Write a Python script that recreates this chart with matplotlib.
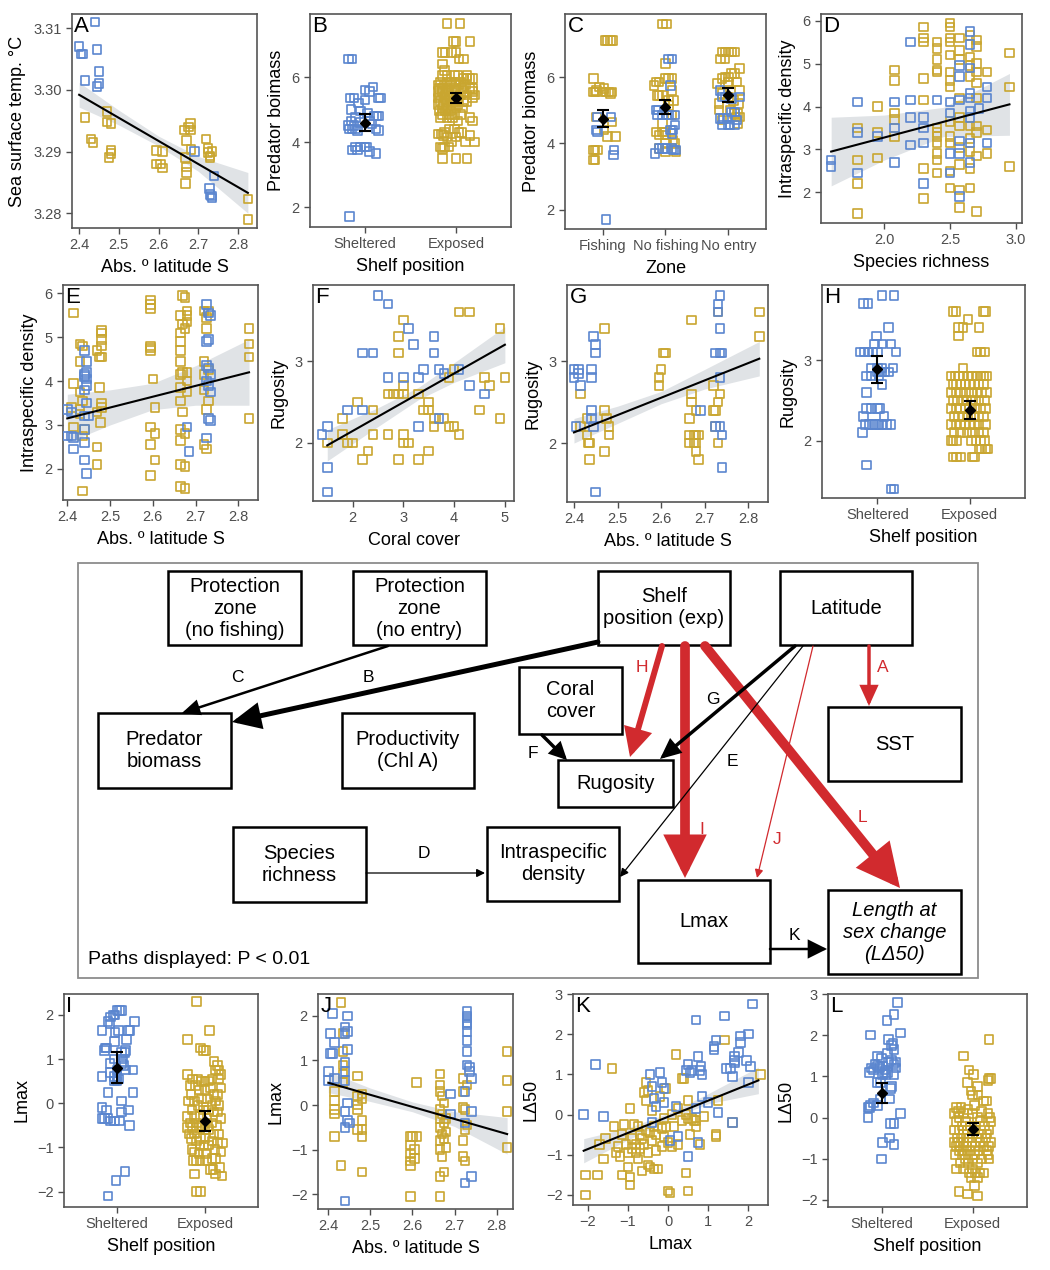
import numpy as np
import matplotlib
matplotlib.use("Agg")
import matplotlib.pyplot as plt
from matplotlib.patches import Rectangle, FancyArrowPatch

plt.rcParams['font.family'] = ['Liberation Sans', 'DejaVu Sans']

W, H = 1050, 1270
BLUE = '#5b86cf'
GOLD = '#c9a630'
RED = '#d12a2e'
BAND = '#e0e3e6'
TICK = '#4d4d4d'

# ---------------- data ----------------
# A: latitude vs SST
a_blue = [(2.400, 3.3070), (2.405, 3.3058), (2.410, 3.3058), (2.415, 3.3015), (2.440, 3.3110),
          (2.445, 3.3065), (2.445, 3.3005), (2.450, 3.3030), (2.450, 3.3010), (2.690, 3.2900),
          (2.728, 3.2840), (2.730, 3.2830), (2.735, 3.2825), (2.740, 3.2860), (2.733, 3.2828)]
a_gold = [(2.415, 3.2955), (2.430, 3.2920), (2.435, 3.2915), (2.470, 3.2965), (2.470, 3.2948),
          (2.480, 3.2945), (2.475, 3.2890), (2.480, 3.2902), (2.480, 3.2897), (2.595, 3.2902),
          (2.595, 3.2880), (2.605, 3.2880), (2.610, 3.2873), (2.610, 3.2900), (2.665, 3.2935),
          (2.670, 3.2918), (2.670, 3.2875), (2.670, 3.2866), (2.668, 3.2848), (2.668, 3.2890),
          (2.675, 3.2940), (2.680, 3.2945), (2.680, 3.2935), (2.682, 3.2903), (2.720, 3.2920),
          (2.725, 3.2905), (2.725, 3.2898), (2.730, 3.2893), (2.730, 3.2890), (2.735, 3.2900),
          (2.825, 3.2823), (2.825, 3.2790)]
a_band_x = [2.40, 2.50, 2.60, 2.70, 2.825]
a_band_lo = [3.2972, 3.2943, 3.2909, 3.2868, 3.2800]
a_band_hi = [3.3012, 3.2967, 3.2925, 3.2892, 3.2866]
a_line = ([2.40, 2.825], [3.2992, 3.2833])

# B: shelf position vs predator biomass
b_blue = [(6.55, [0.82, 0.86]), (5.70, [1.09]), (5.60, [1.00]), (5.55, [1.05]),
          (5.35, [0.84, 0.88, 1.15, 1.17]), (5.30, [1.00]), (5.20, [0.93]), (5.00, [0.85]),
          (4.95, [0.95]), (4.90, [1.03]), (4.80, [1.10, 1.13, 1.15]), (4.75, [0.90]),
          (4.65, [0.85, 1.05]), (4.60, [0.95]), (4.55, [1.08]), (4.50, [0.82, 0.88]),
          (4.40, [0.83, 0.86, 0.90, 1.12]), (4.35, [0.92, 1.15]),
          (3.85, [0.90, 0.95, 1.00, 1.02]), (3.75, [0.86, 0.92]), (3.70, [1.05]),
          (3.65, [1.12]), (1.70, [0.83])]
b_gold = [(7.65, [1.90, 2.04]), (7.10, [1.97, 2.00, 2.15]), (6.75, [1.85, 1.88, 1.95, 2.00]),
          (6.55, [2.03, 2.08]), (6.40, [1.85]), (6.20, [1.87]),
          (6.05, [1.85, 1.90, 1.98, 2.02, 2.12]), (5.95, [2.08, 2.12, 2.15, 2.18]),
          (5.85, [1.83, 1.90, 1.95, 2.00, 2.05]), (5.75, [1.80, 1.87, 1.93, 2.03, 2.10]),
          (5.65, [1.82, 1.85, 1.90, 1.98, 2.06, 2.15, 2.18]),
          (5.55, [1.80, 1.85, 1.92, 2.00, 2.08, 2.18]),
          (5.45, [1.82, 1.88, 1.95, 2.05, 2.12, 2.20]), (5.35, [1.80, 1.87, 1.93, 2.02, 2.18]),
          (5.25, [1.83, 1.90, 1.97, 2.08, 2.12]), (5.15, [1.80, 1.86, 1.95, 2.02]),
          (5.05, [1.85, 1.90, 2.00, 2.07]), (4.95, [1.82, 1.88, 1.94]),
          (4.85, [1.85, 1.92, 1.98, 2.05]), (4.75, [1.83, 1.90, 1.96, 2.15]),
          (4.65, [2.02, 2.18]), (4.40, [1.92, 1.98]), (4.30, [1.87, 2.03, 2.06]),
          (4.25, [1.80, 1.84]), (4.20, [1.86, 2.15]), (4.15, [1.90, 2.00]),
          (4.00, [1.95, 2.10, 2.20]), (3.85, [1.83, 1.87, 1.92]), (3.80, [1.85]),
          (3.50, [1.85, 2.00, 2.12])]
b_mean = [4.60, 5.35]
b_lo = [4.35, 5.20]
b_hi = [4.85, 5.50]

# C: zone vs predator biomass
c_gold = [(7.10, [1.04, 1.08, 1.12, 1.16]), (5.95, [0.85]), (5.70, [0.95]), (5.65, [1.02]),
          (5.60, [0.90]), (5.55, [0.85, 0.88, 1.00, 1.05, 1.10, 1.15]), (5.50, [1.12]),
          (4.80, [0.90]), (4.65, [1.15]), (4.40, [1.02]), (4.20, [1.08, 1.20]),
          (3.80, [0.85, 0.88, 0.92]), (3.50, [0.85, 0.88]),
          (7.60, [1.95, 2.02]), (6.40, [2.00]), (5.95, [2.00, 2.05, 2.10]), (5.85, [1.85, 1.90]),
          (5.75, [1.82]), (5.60, [2.10]), (5.45, [1.87, 1.90, 1.95]), (5.30, [2.05, 2.13]),
          (5.15, [2.05]), (4.85, [2.10]), (4.60, [1.95]), (4.35, [1.85, 1.95, 2.00]),
          (4.25, [1.90, 2.00]), (4.10, [2.12]), (4.00, [2.00, 2.15]), (3.85, [1.90]),
          (3.75, [2.00, 2.17]),
          (6.75, [2.90, 2.95, 3.00, 3.05, 3.10]), (6.55, [2.88, 2.95]), (6.25, [3.18]),
          (6.10, [3.05, 3.10]), (6.00, [2.95, 3.00]), (5.95, [2.90]), (5.85, [3.00, 3.13]),
          (5.80, [2.82]), (5.60, [3.18]), (5.50, [2.90]), (5.40, [3.00]), (5.30, [3.08]),
          (5.20, [2.85, 3.17]), (5.00, [2.85, 3.03]), (4.90, [3.10, 3.15]),
          (4.80, [3.12, 3.18]), (4.70, [2.90]), (4.60, [3.15])]
c_blue = [(4.80, [0.92, 1.13]), (4.40, [0.90]), (4.35, [0.92]), (3.80, [1.18]), (3.65, [1.17]),
          (1.70, [1.05]),
          (6.55, [2.05, 2.10]), (5.75, [2.08]), (5.00, [1.85, 1.88]),
          (4.85, [1.87, 1.95, 2.02, 2.05, 2.15]), (4.55, [2.15]), (4.40, [2.08, 2.12]),
          (4.30, [2.10]), (3.85, [1.90, 1.95, 2.00, 2.10]), (3.70, [1.83]), (3.80, [2.13, 2.17]),
          (5.60, [2.87]), (5.40, [2.90, 2.95, 3.18]), (5.35, [3.05]), (4.95, [3.05, 3.10]),
          (4.75, [2.87, 2.92, 2.98]), (4.55, [2.90, 3.00, 3.03, 3.10]), (4.70, [3.13])]
c_mean = [4.75, 5.10, 5.45]
c_lo = [4.50, 4.90, 5.25]
c_hi = [5.00, 5.32, 5.68]

# D: species richness vs intraspecific density
d_blue = [(1.60, 2.75), (1.60, 2.60), (1.80, 4.10), (1.80, 3.40), (1.80, 2.45), (1.95, 3.30),
          (2.08, 4.10), (2.08, 3.50), (2.08, 2.70), (2.20, 5.50), (2.20, 4.15), (2.20, 3.75),
          (2.20, 3.10), (2.30, 3.75), (2.30, 3.50), (2.30, 3.15), (2.30, 2.20), (2.40, 4.15),
          (2.50, 4.10), (2.50, 3.85), (2.50, 2.90), (2.50, 2.45), (2.57, 4.95), (2.57, 4.70),
          (2.57, 4.15), (2.57, 3.20), (2.57, 2.90), (2.57, 1.90), (2.65, 5.75), (2.65, 5.45),
          (2.65, 4.90), (2.65, 4.30), (2.65, 4.20), (2.65, 3.90), (2.65, 3.75), (2.65, 3.15),
          (2.65, 2.70), (2.72, 3.95), (2.78, 4.45), (2.78, 4.20), (2.78, 3.15)]
d_gold = [(1.80, 3.50), (1.80, 2.75), (1.80, 2.20), (1.80, 1.50), (1.95, 4.00), (1.95, 3.40),
          (1.95, 2.80), (2.08, 4.85), (2.08, 4.60), (2.08, 3.85), (2.08, 3.70), (2.08, 3.30),
          (2.30, 5.85), (2.30, 5.60), (2.30, 5.50), (2.30, 4.65), (2.30, 4.15), (2.30, 2.55),
          (2.30, 1.85), (2.40, 5.50), (2.40, 5.35), (2.40, 5.10), (2.40, 4.85), (2.40, 4.80),
          (2.40, 3.50), (2.40, 3.40), (2.40, 3.30), (2.40, 3.15), (2.40, 2.90), (2.40, 2.75),
          (2.40, 2.45), (2.50, 5.95), (2.50, 5.85), (2.50, 5.60), (2.50, 5.50), (2.50, 5.20),
          (2.50, 4.80), (2.50, 4.60), (2.50, 4.45), (2.50, 3.65), (2.50, 3.30), (2.50, 3.15),
          (2.50, 2.50), (2.50, 2.10), (2.57, 5.60), (2.57, 5.30), (2.57, 5.10), (2.57, 4.20),
          (2.57, 3.75), (2.57, 3.55), (2.57, 3.05), (2.57, 2.65), (2.57, 2.05), (2.57, 1.65),
          (2.65, 5.65), (2.65, 5.15), (2.65, 4.95), (2.65, 4.70), (2.65, 3.55), (2.65, 3.25),
          (2.65, 2.95), (2.65, 2.55), (2.65, 2.10), (2.70, 5.55), (2.70, 5.40), (2.70, 5.00),
          (2.70, 4.80), (2.70, 4.55), (2.70, 4.20), (2.70, 3.55), (2.70, 3.40), (2.70, 2.85),
          (2.70, 1.55), (2.78, 4.80), (2.78, 3.45), (2.78, 2.90), (2.95, 5.25), (2.95, 4.45),
          (2.95, 2.60)]
d_band_x = [1.60, 2.00, 2.45, 2.95]
d_band_lo = [2.15, 2.75, 3.30, 3.33]
d_band_hi = [3.75, 3.80, 3.98, 4.77]
d_line = ([1.60, 2.95], [2.95, 4.05])

# E: latitude vs intraspecific density
e_blue = [(2.400, 3.35), (2.400, 2.75), (2.410, 2.75), (2.410, 3.30), (2.415, 2.45), (2.415, 2.72),
          (2.440, 4.70), (2.440, 4.15), (2.440, 4.10), (2.445, 4.45), (2.445, 4.20), (2.445, 4.05),
          (2.445, 3.90), (2.440, 3.80), (2.445, 3.50), (2.440, 3.20), (2.450, 3.20), (2.440, 2.90),
          (2.440, 2.60), (2.440, 2.20), (2.445, 1.90), (2.680, 2.95), (2.685, 2.40), (2.725, 5.75),
          (2.730, 5.55), (2.735, 5.50), (2.730, 4.95), (2.725, 4.90), (2.725, 4.35), (2.730, 4.30),
          (2.735, 4.15), (2.725, 4.00), (2.730, 3.90), (2.735, 3.75), (2.730, 3.15), (2.735, 3.10),
          (2.725, 2.70)]
e_gold = [(2.415, 5.55), (2.415, 3.95), (2.410, 3.40), (2.415, 2.95), (2.430, 4.85), (2.435, 4.80),
          (2.430, 4.45), (2.430, 3.75), (2.435, 3.55), (2.430, 3.35), (2.430, 3.25), (2.440, 2.90),
          (2.435, 2.75), (2.435, 1.50), (2.470, 4.70), (2.475, 4.55), (2.470, 3.30), (2.470, 2.50),
          (2.470, 2.10), (2.480, 5.15), (2.480, 5.10), (2.480, 4.95), (2.480, 4.80), (2.480, 4.55),
          (2.475, 3.85), (2.480, 3.50), (2.480, 3.40), (2.478, 3.05), (2.595, 5.85), (2.595, 5.75),
          (2.595, 5.65), (2.595, 4.80), (2.595, 4.75), (2.595, 4.70), (2.595, 2.95), (2.595, 2.55),
          (2.595, 1.85), (2.600, 4.05), (2.605, 3.40), (2.605, 2.80), (2.605, 2.20), (2.665, 5.50),
          (2.665, 5.10), (2.665, 4.90), (2.665, 4.70), (2.665, 4.45), (2.665, 4.15), (2.665, 3.85),
          (2.665, 3.55), (2.665, 2.90), (2.665, 2.65), (2.665, 2.10), (2.665, 1.60), (2.670, 5.95),
          (2.675, 5.90), (2.670, 5.30), (2.675, 5.20), (2.670, 4.20), (2.670, 3.30), (2.675, 2.80),
          (2.675, 2.05), (2.675, 1.55), (2.680, 5.60), (2.680, 5.50), (2.680, 5.35), (2.680, 4.20),
          (2.680, 4.00), (2.680, 3.75), (2.720, 5.60), (2.720, 4.45), (2.720, 4.15), (2.720, 3.80),
          (2.720, 2.55), (2.725, 5.45), (2.725, 5.20), (2.725, 3.35), (2.725, 2.45), (2.730, 5.60),
          (2.730, 4.25), (2.730, 3.55), (2.825, 5.20), (2.825, 4.85), (2.825, 4.55), (2.825, 3.15)]
e_band_x = [2.40, 2.50, 2.60, 2.70, 2.825]
e_band_lo = [2.60, 3.00, 3.35, 3.45, 3.45]
e_band_hi = [3.70, 3.80, 3.95, 4.35, 4.95]
e_line = ([2.40, 2.825], [3.15, 4.20])

# F: coral cover vs rugosity
f_blue = [(1.4, 2.1), (1.5, 2.2), (1.5, 1.7), (1.5, 1.4), (1.9, 2.4), (2.2, 3.1), (2.2, 2.4),
          (2.4, 3.1), (2.5, 3.8), (2.7, 3.7), (2.7, 2.8), (3.0, 2.8), (3.1, 3.4), (3.2, 3.2),
          (3.3, 2.8), (3.3, 2.2), (3.4, 2.9), (3.6, 3.3), (3.6, 3.1), (3.7, 2.9), (3.7, 2.3),
          (3.8, 2.85), (4.1, 2.9), (4.3, 2.7), (4.6, 2.6)]
f_gold = [(1.5, 2.0), (1.8, 2.3), (1.8, 2.1), (1.9, 2.0), (2.0, 2.0), (2.1, 2.5), (2.2, 1.8),
          (2.3, 1.9), (2.4, 2.4), (2.4, 2.1), (2.7, 2.6), (2.7, 2.1), (2.8, 2.6), (2.9, 2.6),
          (2.9, 3.3), (2.9, 3.1), (2.9, 1.8), (3.0, 3.5), (3.0, 2.7), (3.0, 2.6), (3.0, 2.1),
          (3.0, 2.0), (3.1, 2.0), (3.3, 2.6), (3.3, 1.8), (3.4, 2.4), (3.5, 2.5), (3.5, 2.4),
          (3.5, 1.9), (3.6, 2.2), (3.6, 2.3), (3.8, 2.3), (3.9, 2.8), (3.9, 2.2), (4.0, 2.9),
          (4.0, 2.2), (4.1, 3.6), (4.1, 2.1), (4.3, 3.6), (4.5, 2.4), (4.6, 2.8), (4.7, 2.7),
          (4.9, 3.4), (4.9, 2.3), (5.0, 2.8)]
f_band_x = [1.5, 2.5, 3.3, 4.0, 5.0]
f_band_lo = [1.78, 2.20, 2.53, 2.74, 2.98]
f_band_hi = [2.16, 2.43, 2.68, 2.98, 3.42]
f_line = ([1.5, 5.0], [1.97, 3.20])

# G: latitude vs rugosity
g_blue = [(2.400, 2.9), (2.400, 2.8), (2.405, 2.2), (2.410, 2.85), (2.410, 2.9), (2.415, 2.7),
          (2.440, 2.9), (2.440, 2.8), (2.440, 2.4), (2.440, 2.3), (2.445, 3.3), (2.445, 2.2),
          (2.450, 3.2), (2.450, 3.1), (2.450, 1.4), (2.690, 2.4), (2.725, 3.1), (2.725, 2.2),
          (2.730, 3.7), (2.730, 3.6), (2.735, 3.8), (2.735, 3.4), (2.735, 3.1), (2.735, 2.8),
          (2.735, 2.2), (2.740, 3.1), (2.740, 2.1), (2.740, 1.7)]
g_gold = [(2.415, 2.6), (2.415, 2.2), (2.430, 2.3), (2.430, 2.1), (2.435, 2.0), (2.433, 2.0),
          (2.435, 1.8), (2.470, 3.4), (2.470, 2.4), (2.470, 1.9), (2.475, 2.3), (2.480, 2.2),
          (2.480, 2.1), (2.595, 2.8), (2.595, 2.7), (2.600, 2.9), (2.605, 3.1), (2.610, 3.1),
          (2.670, 3.5), (2.670, 2.6), (2.670, 2.5), (2.665, 2.3), (2.665, 2.1), (2.665, 2.0),
          (2.675, 2.1), (2.675, 2.0), (2.680, 2.4), (2.680, 2.1), (2.680, 2.0), (2.680, 1.9),
          (2.685, 2.1), (2.685, 1.8), (2.720, 2.7), (2.720, 2.4), (2.725, 2.4), (2.725, 2.2),
          (2.730, 3.6), (2.730, 2.5), (2.730, 2.0), (2.735, 2.6), (2.825, 3.6), (2.825, 3.3)]
g_band_x = [2.40, 2.50, 2.60, 2.70, 2.825]
g_band_lo = [2.00, 2.24, 2.48, 2.66, 2.82]
g_band_hi = [2.30, 2.45, 2.63, 2.90, 3.24]
g_line = ([2.40, 2.825], [2.13, 3.03])

# H: shelf position vs rugosity
h_blue = [(3.8, [1.05, 1.18]), (3.7, [0.85, 0.90]), (3.4, [1.12]), (3.3, [0.99]),
          (3.2, [0.97, 1.05, 1.15]), (3.1, [0.82, 0.86, 0.90, 0.95, 1.00, 1.20]),
          (2.9, [0.93, 1.00, 1.05, 1.17]), (2.85, [1.00, 1.05, 1.08, 1.12]),
          (2.8, [0.88, 0.93, 1.02]), (2.7, [1.05]), (2.6, [0.88]), (2.4, [0.88, 0.93, 1.00, 1.03]),
          (2.3, [0.85, 1.07]), (2.2, [0.87, 0.91, 0.95, 0.98, 1.02, 1.05, 1.10, 1.15]),
          (2.1, [0.84]), (1.7, [0.88]), (1.4, [1.15, 1.18])]
h_gold = [(3.6, [1.82, 1.85, 2.15, 2.17]), (3.5, [1.98]), (3.4, [1.88, 1.93, 2.10]), (3.3, [1.88]),
          (3.1, [2.08, 2.12, 2.16]), (2.9, [1.93]),
          (2.8, [1.80, 1.84, 1.88, 1.93, 1.98, 2.03, 2.08, 2.12, 2.15, 2.18]),
          (2.7, [1.82, 1.86, 1.90, 1.95, 2.00, 2.05, 2.10, 2.15]),
          (2.6, [1.80, 1.85, 1.90, 1.96, 2.02, 2.08, 2.13, 2.18]),
          (2.5, [1.82, 1.87, 1.93, 1.97, 2.03, 2.10, 2.16]),
          (2.4, [1.80, 1.86, 1.90, 1.95, 2.00, 2.05, 2.12, 2.17]),
          (2.3, [1.83, 1.88, 1.93, 1.98, 2.04, 2.10, 2.15]),
          (2.2, [1.80, 1.85, 1.90, 1.95, 2.00, 2.05, 2.10, 2.17]),
          (2.1, [1.83, 1.90, 1.97, 2.03, 2.10, 2.15]),
          (2.0, [1.80, 1.82, 1.86, 2.02, 2.07, 2.12, 2.16]),
          (1.9, [2.10, 2.13, 2.17, 2.20]), (1.8, [1.82, 1.86, 1.90, 2.03, 2.05])]
h_mean = [2.89, 2.38]
h_lo = [2.72, 2.27]
h_hi = [3.05, 2.49]

# I: shelf position vs Lmax
i_blue = [(2.10, [1.00, 1.03, 1.05]), (2.00, [0.96, 0.98]), (1.95, [0.93]), (1.85, [0.90, 1.20]),
          (1.80, [0.92]), (1.65, [0.83, 1.02, 1.13, 1.15]), (1.60, [0.98]), (1.45, [1.11]),
          (1.40, [0.97]), (1.25, [0.87, 0.88]), (1.20, [0.86, 1.10]), (1.15, [1.05, 1.09]),
          (1.00, [0.97, 1.07]), (0.90, [0.92, 1.05]), (0.85, [1.08]), (0.75, [1.00, 1.10, 1.18]),
          (0.70, [0.93]), (0.60, [0.83, 0.97, 1.00]), (0.55, [1.02]), (0.50, [0.97, 1.00]),
          (0.25, [0.90, 1.18]), (0.05, [1.05]), (-0.10, [0.83]), (-0.15, [0.88, 1.13]),
          (-0.20, [1.05]), (-0.35, [0.83, 0.86, 0.90]), (-0.40, [0.93, 0.97, 1.03]),
          (-0.50, [1.14]), (-1.55, [1.09]), (-1.75, [0.99]), (-2.10, [0.90])]
i_gold = [(2.30, [1.90]), (1.65, [2.05]), (1.45, [1.80]), (1.25, [1.95]), (1.20, [1.98, 2.01]),
          (0.95, [2.10]), (0.85, [2.14]), (0.75, [2.12, 2.16]), (0.65, [1.80, 2.18]),
          (0.55, [1.86, 1.92, 2.08, 2.15]), (0.50, [1.96, 2.00, 2.04]), (0.40, [1.83, 1.89]),
          (0.35, [2.06, 2.18]), (0.30, [1.93, 2.00]), (0.20, [1.84, 2.10, 2.14]),
          (0.10, [1.96, 2.03]), (0.05, [1.81, 1.88, 2.12]), (-0.05, [1.92, 2.08, 2.16]),
          (-0.15, [1.85, 1.98, 2.04]), (-0.20, [2.10, 2.14]), (-0.30, [1.80, 1.88, 1.95]),
          (-0.35, [2.02, 2.18]), (-0.45, [1.83, 1.90, 2.07]), (-0.50, [1.97, 2.13]),
          (-0.55, [1.80, 1.86, 1.93]), (-0.60, [2.00, 2.04]), (-0.70, [1.82, 1.88, 2.10, 2.16]),
          (-0.80, [1.84, 1.95, 2.00]), (-0.85, [1.90, 2.08]), (-0.90, [2.14, 2.20]),
          (-0.95, [1.94, 1.99, 2.04]), (-1.05, [1.85, 2.11]), (-1.10, [1.88, 2.18]),
          (-1.15, [1.93, 2.01]), (-1.30, [1.87, 1.90, 1.94, 2.02]), (-1.25, [2.08, 2.12]),
          (-1.45, [2.17]), (-1.50, [2.06, 2.09]), (-1.60, [1.88, 2.12]), (-1.65, [2.19]),
          (-2.00, [1.90, 1.95])]
i_mean = [0.80, -0.40]
i_lo = [0.47, -0.62]
i_hi = [1.15, -0.17]

# J: latitude vs Lmax
j_blue = [(2.400, 0.75), (2.400, 0.55), (2.405, 1.60), (2.405, 1.15), (2.410, 2.05), (2.410, 1.15),
          (2.415, 1.40), (2.415, 0.60), (2.440, 1.75), (2.440, 1.60), (2.445, 2.00), (2.445, 1.65),
          (2.445, 1.25), (2.440, 0.95), (2.440, 0.75), (2.440, 0.55), (2.445, 0.05), (2.440, -0.15),
          (2.445, -0.35), (2.440, -0.50), (2.450, -0.40), (2.440, -2.15), (2.690, 0.25),
          (2.690, -0.20), (2.725, 0.30), (2.725, -0.40), (2.725, -1.75), (2.730, 2.10),
          (2.730, 2.00), (2.730, 1.95), (2.730, 1.85), (2.730, 1.80), (2.730, 1.65), (2.730, 1.45),
          (2.730, 1.20), (2.730, 0.90), (2.735, 0.85), (2.735, 0.75), (2.740, 0.60),
          (2.740, -0.15), (2.740, -1.60)]
j_gold = [(2.415, 0.30), (2.415, 0.10), (2.415, -0.10), (2.415, -0.20), (2.415, -0.70),
          (2.430, 2.30), (2.435, 1.60), (2.435, 1.20), (2.435, 0.90), (2.435, 0.70), (2.435, 0.50),
          (2.430, -1.35), (2.470, 0.65), (2.470, 0.20), (2.470, 0.00), (2.470, -0.10),
          (2.470, -0.55), (2.480, 0.25), (2.480, 0.15), (2.480, -0.35), (2.480, -0.55),
          (2.480, -0.70), (2.480, -1.50), (2.595, -0.70), (2.595, -0.90), (2.595, -1.10),
          (2.595, -1.25), (2.595, -1.35), (2.595, -2.05), (2.600, -0.70), (2.605, -1.00),
          (2.605, -1.20), (2.610, 0.50), (2.610, -0.70), (2.665, 0.70), (2.665, 0.45),
          (2.665, 0.30), (2.665, -0.10), (2.665, -0.30), (2.665, -0.50), (2.665, -0.80),
          (2.665, -1.00), (2.665, -1.60), (2.665, -2.05), (2.670, 0.20), (2.670, -0.20),
          (2.670, -0.65), (2.670, -1.15), (2.675, 0.05), (2.675, -0.40), (2.675, -0.75),
          (2.675, -1.50), (2.680, -0.30), (2.680, -0.60), (2.680, -0.95), (2.720, 0.60),
          (2.720, 0.30), (2.720, -0.05), (2.720, -0.80), (2.720, -1.15), (2.725, -0.10),
          (2.725, -0.55), (2.725, -1.25), (2.730, 0.45), (2.730, -0.45), (2.825, 1.20),
          (2.825, 0.55), (2.825, -0.15), (2.825, -0.95)]
j_band_x = [2.40, 2.50, 2.60, 2.70, 2.825]
j_band_lo = [0.28, 0.08, -0.15, -0.48, -1.10]
j_band_hi = [0.75, 0.38, 0.07, -0.15, -0.28]
j_line = ([2.40, 2.825], [0.50, -0.65])

# K: Lmax vs LD50
k_blue = [(-2.10, 0.00), (-1.80, 1.25), (-1.60, -0.05), (-0.45, 1.00), (-0.40, 0.70), (-0.35, 0.40),
          (-0.40, -0.20), (-0.30, 0.20), (-0.20, 1.05), (-0.15, 0.80), (-0.10, 0.65), (-0.10, 0.30),
          (0.05, -0.65), (0.20, 0.20), (0.25, -0.55), (0.45, 1.10), (0.50, -1.05), (0.50, 1.25),
          (0.55, 1.05), (0.60, 1.10), (0.70, 0.15), (0.70, 2.35), (0.75, 1.45), (0.75, -0.70),
          (0.80, 1.10), (0.82, 1.20), (0.85, 0.45), (0.85, 1.00), (1.00, 0.30), (1.15, 1.70),
          (1.15, 1.62), (1.20, 1.85), (1.25, 0.05), (1.40, 2.45), (1.45, 1.15), (1.55, 1.15),
          (1.60, 0.95), (1.60, -0.20), (1.65, 1.45), (1.65, 1.35), (1.75, 1.55), (1.80, 1.95),
          (1.80, 1.80), (1.95, 1.35), (2.00, 2.00), (2.00, 0.80), (2.05, 1.20), (2.10, 2.75),
          (1.65, 1.28)]
k_gold = [(-2.05, -1.50), (-2.05, -2.00), (-1.75, -1.50), (-1.70, -0.75), (-1.60, -1.10),
          (-1.55, -0.60), (-1.40, 1.15), (-1.35, -0.30), (-1.30, -0.95), (-1.25, -0.80),
          (-1.20, -1.05), (-1.15, -0.50), (-1.15, -1.50), (-1.10, -0.25), (-1.05, -0.75),
          (-1.00, -0.95), (-1.00, -1.30), (-0.95, 0.15), (-0.95, -1.55), (-0.95, -1.75),
          (-0.90, -0.60), (-0.90, -0.85), (-0.85, -0.25), (-0.80, -0.75), (-0.80, -0.95),
          (-0.75, -0.30), (-0.75, -1.10), (-0.70, -0.50), (-0.70, -0.85), (-0.65, -0.60),
          (-0.65, -1.40), (-0.60, 0.55), (-0.60, -0.75), (-0.55, 0.80), (-0.55, 0.35),
          (-0.55, -0.40), (-0.50, 0.60), (-0.50, -0.95), (-0.50, -1.25), (-0.45, -0.45),
          (-0.45, -1.30), (-0.40, 0.10), (-0.40, -0.65), (-0.35, -0.30), (-0.35, -1.35),
          (-0.30, -0.50), (-0.30, -0.90), (-0.25, -1.35), (-0.20, 0.45), (-0.15, -0.35),
          (-0.15, -0.80), (-0.10, -0.10), (-0.10, -0.55), (-0.05, 0.65), (-0.05, -0.30),
          (0.00, -0.70), (0.00, -1.90), (0.05, -1.95), (0.10, -0.80), (0.10, 0.00), (0.15, -0.30),
          (0.20, 1.50), (0.25, 0.15), (0.25, -0.75), (0.35, -0.15), (0.35, 0.90), (0.40, 0.90),
          (0.45, 0.00), (0.45, -1.45), (0.50, 0.35), (0.50, -0.10), (0.50, -1.90), (0.55, -0.50),
          (0.60, -0.10), (0.65, -0.15), (0.70, -0.15), (0.70, -0.30), (0.80, -0.75), (0.90, -0.05),
          (1.20, -0.50), (1.20, -0.55), (1.25, 0.35), (1.40, 1.85), (1.60, -0.20), (2.30, 1.00)]
k_band_x = [-2.10, -1.00, 0.00, 1.00, 2.25]
k_band_lo = [-1.20, -0.63, -0.14, 0.27, 0.52]
k_band_hi = [-0.60, -0.33, 0.03, 0.52, 1.18]
k_line = ([-2.10, 2.25], [-0.90, 0.85])

# L: shelf position vs LD50
l_blue = [(2.80, [1.17]), (2.50, [1.13]), (2.35, [1.05]), (2.05, [1.20]), (2.00, [0.87]),
          (1.90, [1.07]), (1.80, [1.12]), (1.75, [1.10]), (1.65, [1.13]), (1.55, [1.06]),
          (1.50, [0.95]), (1.45, [0.99]), (1.40, [1.10]), (1.35, [1.07, 1.15]), (1.30, [0.92, 1.13]),
          (1.25, [0.95, 1.00]), (1.20, [0.88, 0.97, 1.15]), (1.15, [0.90, 1.03]),
          (1.10, [0.86, 1.02, 1.06]), (1.05, [1.00, 1.04, 1.13]), (0.85, [0.94, 0.98]),
          (0.75, [1.10]), (0.70, [1.09]), (0.45, [0.98, 1.08]), (0.35, [0.90]), (0.30, [0.87, 0.95]),
          (0.25, [0.84, 0.86]), (0.10, [1.20]), (0.00, [0.84]), (-0.15, [1.09, 1.13]),
          (-0.50, [1.08]), (-0.60, [1.00]), (-0.65, [1.13]), (-1.00, [0.99])]
l_gold = [(1.90, [2.18]), (1.50, [1.90]), (1.15, [1.96]), (1.05, [2.01]), (0.95, [2.18, 2.20]),
          (0.90, [2.17]), (0.85, [1.94]), (0.75, [2.05]), (0.65, [1.98]), (0.55, [2.00, 2.06]),
          (0.40, [2.12, 2.15]), (0.30, [2.02]), (0.25, [1.82, 1.87]), (0.20, [1.95]),
          (0.15, [1.84, 2.10]), (0.10, [1.80, 1.90, 2.00, 2.17]), (0.00, [1.85, 2.05, 2.19]),
          (-0.10, [1.82, 1.92, 2.08, 2.20]), (-0.20, [1.88, 1.97, 2.13]),
          (-0.30, [1.80, 1.85, 1.94, 2.02, 2.18]), (-0.40, [1.90, 2.00, 2.10, 2.16]),
          (-0.50, [1.83, 1.87, 1.95, 2.06, 2.14]), (-0.60, [1.80, 1.84, 1.90, 1.99, 2.08, 2.20]),
          (-0.70, [1.82, 1.86, 1.93, 2.03, 2.12, 2.18]), (-0.80, [1.85, 1.90, 1.97, 2.07, 2.15]),
          (-0.90, [1.81, 1.88, 1.95, 2.02, 2.17]), (-1.00, [1.92, 2.00, 2.10, 2.18]),
          (-1.10, [1.86, 1.95, 2.05]), (-1.25, [1.82, 1.90, 2.00]),
          (-1.35, [1.96, 2.03, 2.08, 2.12]), (-1.45, [1.98, 2.05]), (-1.65, [2.02]),
          (-1.80, [1.85]), (-1.85, [1.94]), (-1.90, [2.05])]
l_mean = [0.60, -0.28]
l_lo = [0.35, -0.42]
l_hi = [0.83, -0.14]

shelf_labels = ['Sheltered', 'Exposed']
zone_labels = ['Fishing', 'No fishing', 'No entry']
lat_label = 'Abs. º latitude S'

# path diagram: boxes (text, x0, y0, x1, y1, italic) in figure pixels
boxes = [('Protection\nzone\n(no fishing)', 168, 571, 301, 645, False),
         ('Protection\nzone\n(no entry)', 353, 571, 486, 645, False),
         ('Shelf\nposition (exp)', 598, 571, 730, 645, False),
         ('Latitude', 780, 571, 912, 645, False),
         ('Coral\ncover', 519, 667, 622, 734, False),
         ('Predator\nbiomass', 98, 713, 231, 788, False),
         ('Productivity\n(Chl A)', 342, 713, 474, 788, False),
         ('SST', 828, 707, 961, 781, False),
         ('Rugosity', 558, 760, 673, 807, False),
         ('Species\nrichness', 233, 827, 366, 902, False),
         ('Intraspecific\ndensity', 487, 827, 619, 901, False),
         ('Lmax', 638, 880, 770, 963, False),
         ('Length at\nsex change\n(LΔ50)', 828, 890, 961, 974, True)]
# arrows: (label, x0, y0, x1, y1, width pt, red?, head length pt, head half-width pt, label x, label y)
arrows = [('C', 388, 646, 182, 713, 1.8, False, 10, 4.5, 237, 677),
          ('B', 598, 642, 232, 722, 3.6, False, 15, 7, 368, 678),
          ('H', 662, 646, 630, 757, 4.3, True, 14, 7, 642, 668),
          ('I', 685, 646, 685, 878, 7.0, True, 20, 10, 702, 830),
          ('L', 705, 646, 900, 888, 7.0, True, 20, 10, 862, 817),
          ('G', 795, 646, 660, 759, 2.5, False, 11, 5, 713, 700),
          ('E', 803, 646, 620, 877, 0.9, False, 5, 2.5, 732, 762),
          ('J', 813, 646, 757, 878, 0.9, True, 5, 2.5, 777, 840),
          ('A', 869, 646, 869, 706, 2.5, True, 11, 5, 883, 668),
          ('F', 542, 735, 567, 760, 2.5, False, 9, 4.5, 533, 753),
          ('D', 366, 873, 485, 873, 0.9, False, 5, 2.5, 424, 853),
          ('K', 770, 949, 827, 949, 1.8, False, 11, 5.5, 794, 935)]

# ---------------- drawing helpers ----------------
fig = plt.figure(figsize=(W / 100, H / 100), dpi=100)


def add_panel(l, t, r, b):
    return fig.add_axes([l / W, 1 - b / H, (r - l) / W, (b - t) / H])


def style(ax, letter, xlabel, ylabel):
    for s in ax.spines.values():
        s.set_color('#555555')
        s.set_linewidth(1.2)
    ax.tick_params(colors=TICK, labelcolor=TICK, labelsize=10.5, length=4, width=1)
    ax.set_xlabel(xlabel, fontsize=13, labelpad=5)
    ax.set_ylabel(ylabel, fontsize=13, labelpad=5)
    ax.text(0.012, 0.99, letter, transform=ax.transAxes, ha='left', va='top', fontsize=16)


def scatter_pairs(ax, data, color):
    x, y = np.array(data).T
    ax.scatter(x, y, marker='s', s=38, facecolors='none', edgecolors=color,
               linewidths=1.2, zorder=3)


def scatter_rows(ax, data, color):
    x = [xx for yy, xs in data for xx in xs]
    y = [yy for yy, xs in data for xx in xs]
    ax.scatter(x, y, marker='s', s=38, facecolors='none', edgecolors=color,
               linewidths=1.2, zorder=3)


def fit(ax, bx, lo, hi, line):
    ax.fill_between(bx, lo, hi, color=BAND, lw=0, zorder=1)
    ax.plot(line[0], line[1], color='k', lw=1.5, zorder=4)


def means(ax, m, lo, hi, labels):
    x = np.arange(1, len(m) + 1)
    m = np.array(m)
    ax.errorbar(x, m, yerr=[m - np.array(lo), np.array(hi) - m], fmt='D', color='k',
                ms=5.5, capsize=4, elinewidth=1.5, capthick=1.5, zorder=5)
    ax.set_xticks(x)
    ax.set_xticklabels(labels)
    ax.set_xlim(0.4, len(m) + 0.6)


# ---------------- top row ----------------
ax = add_panel(72, 14, 257, 228)
fit(ax, a_band_x, a_band_lo, a_band_hi, a_line)
scatter_pairs(ax, a_gold, GOLD)
scatter_pairs(ax, a_blue, BLUE)
ax.set_xlim(2.382, 2.848)
ax.set_ylim(3.2776, 3.3123)
ax.set_xticks([2.4, 2.5, 2.6, 2.7, 2.8])
ax.set_yticks([3.28, 3.29, 3.30, 3.31])
ax.set_yticklabels(['3.28', '3.29', '3.30', '3.31'])
style(ax, 'A', lat_label, 'Sea surface temp. °C')

ax = add_panel(310, 14, 511, 227)
scatter_rows(ax, b_blue, BLUE)
scatter_rows(ax, b_gold, GOLD)
means(ax, b_mean, b_lo, b_hi, shelf_labels)
ax.set_ylim(1.385, 7.94)
ax.set_yticks([2, 4, 6])
style(ax, 'B', 'Shelf position', 'Predator boimass')

ax = add_panel(565, 14, 766, 229)
scatter_rows(ax, c_gold, GOLD)
scatter_rows(ax, c_blue, BLUE)
means(ax, c_mean, c_lo, c_hi, zone_labels)
ax.set_ylim(1.42, 7.9)
ax.set_yticks([2, 4, 6])
style(ax, 'C', 'Zone', 'Predator biomass')

ax = add_panel(821, 14, 1022, 223)
fit(ax, d_band_x, d_band_lo, d_band_hi, d_line)
scatter_pairs(ax, d_gold, GOLD)
scatter_pairs(ax, d_blue, BLUE)
ax.set_xlim(1.523, 3.045)
ax.set_ylim(1.285, 6.156)
ax.set_xticks([2.0, 2.5, 3.0])
ax.set_xticklabels(['2.0', '2.5', '3.0'])
ax.set_yticks([2, 3, 4, 5, 6])
style(ax, 'D', 'Species richness', 'Intraspecific density')

# ---------------- second row ----------------
ax = add_panel(63, 285, 258, 500)
fit(ax, e_band_x, e_band_lo, e_band_hi, e_line)
scatter_pairs(ax, e_gold, GOLD)
scatter_pairs(ax, e_blue, BLUE)
ax.set_xlim(2.39, 2.846)
ax.set_ylim(1.29, 6.19)
ax.set_xticks([2.4, 2.5, 2.6, 2.7, 2.8])
ax.set_yticks([2, 3, 4, 5, 6])
style(ax, 'E', lat_label, 'Intraspecific density')

ax = add_panel(313, 285, 514, 501)
fit(ax, f_band_x, f_band_lo, f_band_hi, f_line)
scatter_pairs(ax, f_gold, GOLD)
scatter_pairs(ax, f_blue, BLUE)
ax.set_xlim(1.219, 5.18)
ax.set_ylim(1.29, 3.93)
ax.set_xticks([2, 3, 4, 5])
ax.set_yticks([2, 3])
style(ax, 'F', 'Coral cover', 'Rugosity')

ax = add_panel(567, 285, 768, 502)
fit(ax, g_band_x, g_band_lo, g_band_hi, g_line)
scatter_pairs(ax, g_gold, GOLD)
scatter_pairs(ax, g_blue, BLUE)
ax.set_xlim(2.384, 2.845)
ax.set_ylim(1.28, 3.93)
ax.set_xticks([2.4, 2.5, 2.6, 2.7, 2.8])
ax.set_yticks([2, 3])
style(ax, 'G', lat_label, 'Rugosity')

ax = add_panel(822, 285, 1025, 498)
scatter_rows(ax, h_blue, BLUE)
scatter_rows(ax, h_gold, GOLD)
means(ax, h_mean, h_lo, h_hi, shelf_labels)
ax.set_ylim(1.29, 3.93)
ax.set_yticks([2, 3])
style(ax, 'H', 'Shelf position', 'Rugosity')

# ---------------- path diagram ----------------
dg = fig.add_axes([0, 0, 1, 1])
dg.set_xlim(0, W)
dg.set_ylim(H, 0)
dg.axis('off')
dg.patch.set_visible(False)
dg.add_patch(Rectangle((78, 563), 900, 415, fill=False, ec='#8c8c8c', lw=1.3))
for text, x0, y0, x1, y1, ital in boxes:
    dg.add_patch(Rectangle((x0, y0), x1 - x0, y1 - y0, fill=False, ec='k', lw=1.8, zorder=2))
    dg.text((x0 + x1) / 2, (y0 + y1) / 2, text, ha='center', va='center', fontsize=14.5,
            style='italic' if ital else 'normal', linespacing=1.2, zorder=3)
for lab, x0, y0, x1, y1, lw, red, hl, hw, lx, ly in arrows:
    col = RED if red else 'k'
    dg.add_patch(FancyArrowPatch((x0, y0), (x1, y1),
                                 arrowstyle=f'-|>,head_length={hl},head_width={hw}',
                                 mutation_scale=1, lw=lw, color=col, shrinkA=0, shrinkB=0,
                                 joinstyle='miter', zorder=4))
    dg.text(lx, ly, lab, ha='center', va='center', fontsize=12.5, color=col, zorder=5)
dg.text(88, 960, 'Paths displayed: P < 0.01', ha='left', va='center', fontsize=14)

# ---------------- bottom row ----------------
ax = add_panel(64, 994, 258, 1207)
scatter_rows(ax, i_blue, BLUE)
scatter_rows(ax, i_gold, GOLD)
means(ax, i_mean, i_lo, i_hi, shelf_labels)
ax.set_ylim(-2.35, 2.475)
ax.set_yticks([-2, -1, 0, 1, 2])
style(ax, 'I', 'Shelf position', 'Lmax')

ax = add_panel(318, 994, 513, 1209)
fit(ax, j_band_x, j_band_lo, j_band_hi, j_line)
scatter_pairs(ax, j_gold, GOLD)
scatter_pairs(ax, j_blue, BLUE)
ax.set_xlim(2.3755, 2.839)
ax.set_ylim(-2.33, 2.49)
ax.set_xticks([2.4, 2.5, 2.6, 2.7, 2.8])
ax.set_yticks([-2, -1, 0, 1, 2])
style(ax, 'J', lat_label, 'Lmax')

ax = add_panel(573, 994, 768, 1205)
fit(ax, k_band_x, k_band_lo, k_band_hi, k_line)
scatter_pairs(ax, k_gold, GOLD)
scatter_pairs(ax, k_blue, BLUE)
ax.set_xlim(-2.366, 2.49)
ax.set_ylim(-2.25, 3.0)
ax.set_xticks([-2, -1, 0, 1, 2])
ax.set_yticks([-2, -1, 0, 1, 2, 3])
style(ax, 'K', 'Lmax', 'LΔ50')

ax = add_panel(828, 994, 1027, 1207)
scatter_rows(ax, l_blue, BLUE)
scatter_rows(ax, l_gold, GOLD)
means(ax, l_mean, l_lo, l_hi, shelf_labels)
ax.set_ylim(-2.17, 3.0)
ax.set_yticks([-2, -1, 0, 1, 2, 3])
style(ax, 'L', 'Shelf position', 'LΔ50')

fig.savefig('out.png', dpi=100, facecolor='white')
